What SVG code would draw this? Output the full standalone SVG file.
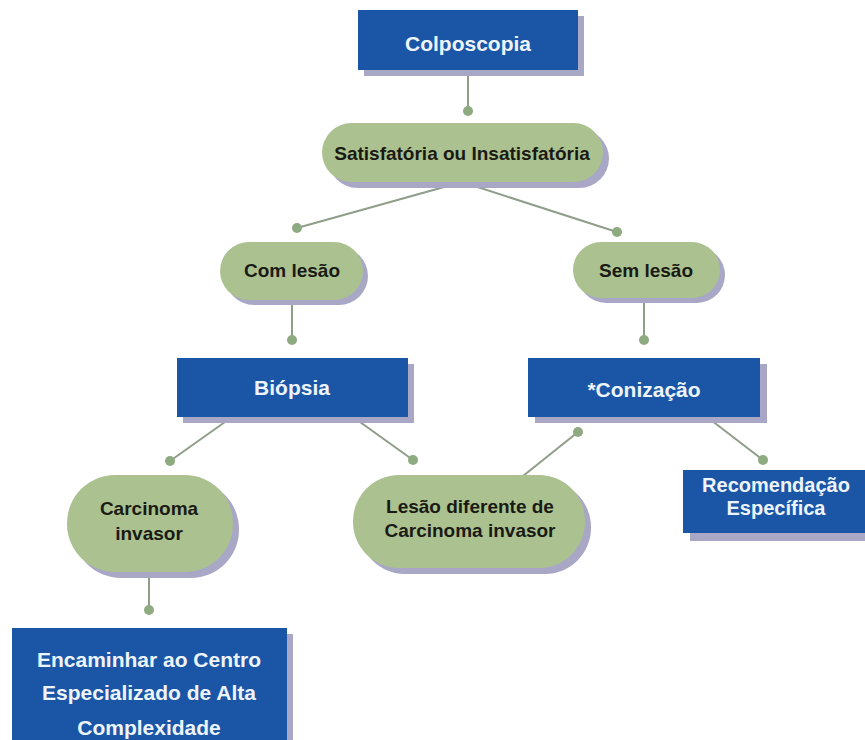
<svg xmlns="http://www.w3.org/2000/svg" width="865" height="740" viewBox="0 0 865 740">
<style>
.bx{fill:#1b56a6}
.sh{fill:#a8a7c6}
.pl{fill:#abc290}
.ln{stroke:#8e9e88;stroke-width:2;fill:none}
.dt{fill:#8eaa80}
.tw{font-family:"Liberation Sans",Arial,sans-serif;font-weight:bold;font-size:21px;fill:#eef4fb;text-anchor:middle}
.tb{font-family:"Liberation Sans",Arial,sans-serif;font-weight:bold;font-size:19px;fill:#1a1a14;text-anchor:middle}
</style>
<rect width="865" height="740" fill="#ffffff"/>
<g id="connectors">
<line class="ln" x1="468" y1="70" x2="468" y2="111"/>
<circle class="dt" cx="468" cy="111" r="5"/>
<line class="ln" x1="462" y1="182" x2="297" y2="228"/>
<circle class="dt" cx="297" cy="228" r="5"/>
<line class="ln" x1="462" y1="182" x2="617" y2="232"/>
<circle class="dt" cx="617" cy="232" r="5"/>
<line class="ln" x1="292" y1="300" x2="292" y2="340"/>
<circle class="dt" cx="292" cy="340" r="5"/>
<line class="ln" x1="644" y1="298" x2="644" y2="340"/>
<circle class="dt" cx="644" cy="340" r="5"/>
<line class="ln" x1="232" y1="417" x2="170" y2="461"/>
<circle class="dt" cx="170" cy="461" r="5"/>
<line class="ln" x1="353" y1="417" x2="413" y2="460"/>
<circle class="dt" cx="413" cy="460" r="5"/>
<line class="ln" x1="518" y1="480" x2="578" y2="432"/>
<circle class="dt" cx="578" cy="432" r="5"/>
<line class="ln" x1="707" y1="417" x2="763" y2="460"/>
<circle class="dt" cx="763" cy="460" r="5"/>
<line class="ln" x1="149" y1="572" x2="149" y2="610"/>
<circle class="dt" cx="149" cy="610" r="5"/>
</g>
<g id="colposcopia">
<rect class="sh" x="364" y="16" width="220" height="60"/>
<rect class="bx" x="358" y="10" width="220" height="60"/>
<text class="tw" x="468" y="51">Colposcopia</text>
</g>
<g id="satisfatoria">
<rect class="sh" x="328" y="129" width="281" height="59" rx="29.5"/>
<rect class="pl" x="322" y="123" width="281" height="59" rx="29.5"/>
<text class="tb" x="462" y="160">Satisfatória ou Insatisfatória</text>
</g>
<g id="com-lesao">
<rect class="sh" x="225" y="247" width="143" height="58" rx="29"/>
<rect class="pl" x="220" y="242" width="143" height="58" rx="29"/>
<text class="tb" x="292" y="277">Com lesão</text>
</g>
<g id="sem-lesao">
<rect class="sh" x="578" y="247" width="147" height="56" rx="28"/>
<rect class="pl" x="573" y="242" width="147" height="56" rx="28"/>
<text class="tb" x="646" y="277">Sem lesão</text>
</g>
<g id="biopsia">
<rect class="sh" x="183" y="364" width="231" height="59"/>
<rect class="bx" x="177" y="358" width="231" height="59"/>
<text class="tw" x="292" y="395">Biópsia</text>
</g>
<g id="conizacao">
<rect class="sh" x="535" y="364" width="232" height="59"/>
<rect class="bx" x="528" y="358" width="232" height="59"/>
<text class="tw" x="644" y="397">*Conização</text>
</g>
<g id="carcinoma">
<rect class="sh" x="73" y="481" width="166" height="97" rx="48" ry="48"/>
<rect class="pl" x="67" y="475" width="166" height="97" rx="48" ry="48"/>
<text class="tb" x="149" y="515">Carcinoma</text>
<text class="tb" x="149" y="540">invasor</text>
</g>
<g id="lesao-diferente">
<rect class="sh" x="359" y="481" width="232" height="93" rx="46" ry="46"/>
<rect class="pl" x="353" y="475" width="232" height="93" rx="46" ry="46"/>
<text class="tb" x="470" y="513">Lesão diferente de</text>
<text class="tb" x="470" y="537">Carcinoma invasor</text>
</g>
<g id="recomendacao">
<rect class="sh" x="690" y="477" width="190" height="64"/>
<rect class="bx" x="683" y="470" width="190" height="63"/>
<text class="tw" x="776" y="492" style="font-size:20px">Recomendação</text>
<text class="tw" x="776" y="515" style="font-size:20px">Específica</text>
</g>
<g id="encaminhar">
<rect class="sh" x="18" y="634" width="275" height="120"/>
<rect class="bx" x="12" y="628" width="275" height="120"/>
<text class="tw" x="149" y="667">Encaminhar ao Centro</text>
<text class="tw" x="149" y="700">Especializado de Alta</text>
<text class="tw" x="149" y="735">Complexidade</text>
</g>
</svg>
